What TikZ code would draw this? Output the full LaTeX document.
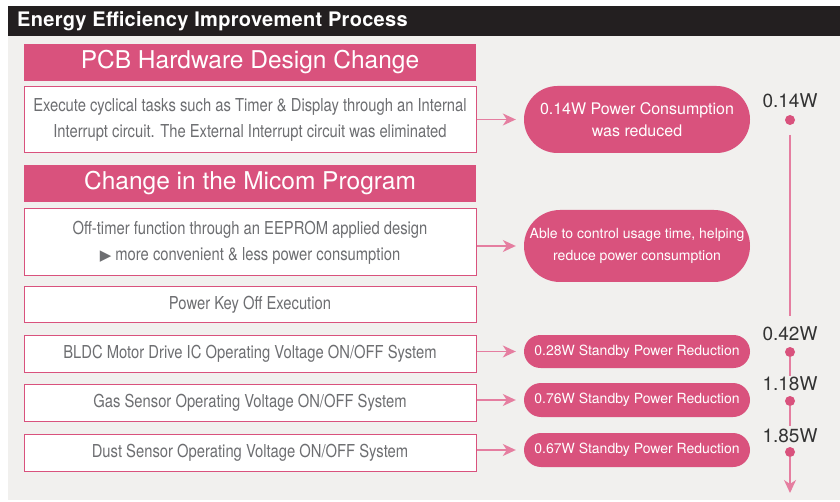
\documentclass[tikz,border=0pt]{standalone}
\usepackage{fontspec}
\setmainfont{TeX Gyre Heros}
\newfontfamily\boxfont{TeX Gyre Heros}[FakeStretch=0.83]
\newfontfamily\titlefont{TeX Gyre Heros}[LetterSpace=1.5]
\newfontfamily\symfont{DejaVu Sans}
\usetikzlibrary{arrows.meta,shapes.misc}
\definecolor{effpink}{HTML}{D9527D}
\definecolor{effline}{HTML}{E57EA0}
\definecolor{effbar}{HTML}{231F20}
\definecolor{effback}{HTML}{F1F0EE}
\definecolor{efftext}{HTML}{6D6E71}
\definecolor{effval}{HTML}{333333}
\tikzset{
  header/.style={fill=effpink,text=white,minimum width=452pt,minimum height=37pt,
    inner sep=0pt,font=\fontsize{24.5}{26}\selectfont},
  taskbox/.style={draw=effpink,line width=1pt,fill=white,text=efftext,minimum width=452pt,
    inner sep=0pt,align=center,font=\boxfont\fontsize{17.8}{26}\selectfont},
  result/.style={rounded rectangle,fill=effpink,text=white,minimum width=226pt,
    inner sep=0pt,align=center,font=\fontsize{14}{22}\selectfont},
  value/.style={text=effval,font=\fontsize{19}{20}\selectfont,inner sep=0pt},
  dot/.style={circle,fill=effpink,minimum size=10pt,inner sep=0pt},
  link/.style={draw=effline,line width=1.5pt,-{Stealth[length=13pt,width=12pt,inset=4pt]},shorten >=8pt},
  track/.style={draw=effline,line width=1.5pt}
}
\begin{document}
\begin{tikzpicture}[x=1pt,y=-1pt]
    \useasboundingbox (0,0) rectangle (840,502);
    \fill[effback] (8,36) rectangle (840,500);
    \fill[effbar] (8,6) rectangle (840,36);
    \node[anchor=west,text=white,font=\titlefont\bfseries\fontsize{20}{22}\selectfont,inner sep=0pt] (title) at (17,21.5) {Energy Efficiency Improvement Process};

    \node[header] (pcb) at (250,62.5) {PCB Hardware Design Change};
    \node[taskbox,minimum height=66pt] (task1) at (250,120) {Execute cyclical tasks such as Timer \& Display through an Internal\\Interrupt circuit. The External Interrupt circuit was eliminated};
    \node[header] (micom) at (250,183.5) {Change in the Micom Program};
    \node[taskbox,minimum height=67pt] (task2) at (250,242.5) {Off-timer function through an EEPROM applied design\\{\symfont\fontsize{15}{15}\selectfont ▶} more convenient \& less power consumption};
    \node[taskbox,minimum height=36pt] (task3) at (250,305) {Power Key Off Execution};
    \node[taskbox,minimum height=37pt] (task4) at (250,353.5) {BLDC Motor Drive IC Operating Voltage ON/OFF System};
    \node[taskbox,minimum height=37pt] (task5) at (250,402.5) {Gas Sensor Operating Voltage ON/OFF System};
    \node[taskbox,minimum height=37pt] (task6) at (250,452.5) {Dust Sensor Operating Voltage ON/OFF System};

    \node[result,minimum height=67pt,font=\fontsize{16}{22}\selectfont] (res1) at (637,119.5) {0.14W Power Consumption\\was reduced};
    \node[result,minimum height=72pt] (res2) at (637,246) {Able to control usage time, helping\\reduce power consumption};
    \node[result,minimum height=33pt] (res4) at (637,351.5) {0.28W Standby Power Reduction};
    \node[result,minimum height=34pt] (res5) at (637,400) {0.76W Standby Power Reduction};
    \node[result,minimum height=34pt] (res6) at (637,450) {0.67W Standby Power Reduction};

    \draw[link] (task1.east |- res1.west) -- (res1.west);
    \draw[link] (task2.east |- res2.west) -- (res2.west);
    \draw[link] (task4.east |- res4.west) -- (res4.west);
    \draw[link] (task5.east |- res5.west) -- (res5.west);
    \draw[link] (task6.east |- res6.west) -- (res6.west);

    % power values
    \node[dot] (d1) at (790,120) {};
    \node[dot] (d2) at (790,352) {};
    \node[dot] (d3) at (790,401) {};
    \node[dot] (d4) at (790,452) {};
    \node[value] (v1) at (790,101) {0.14W};
    \node[value] (v2) at (790,334) {0.42W};
    \node[value] (v3) at (790,384) {1.18W};
    \node[value] (v4) at (790,436) {1.85W};
    \coordinate (t1) at (790,135);
    \coordinate (t2) at (790,316);
    \coordinate (t3) at (790,376);
    \coordinate (t4) at (790,426);
    \coordinate (t5) at (790,493);
    \draw[track] (t1) -- (t2);
    \draw[track] (d2) -- (t3);
    \draw[track] (d3) -- (t4);
    \draw[track,-{Stealth[length=13pt,width=12pt,inset=4pt]}] (d4) -- (t5);
\end{tikzpicture}
\end{document}
